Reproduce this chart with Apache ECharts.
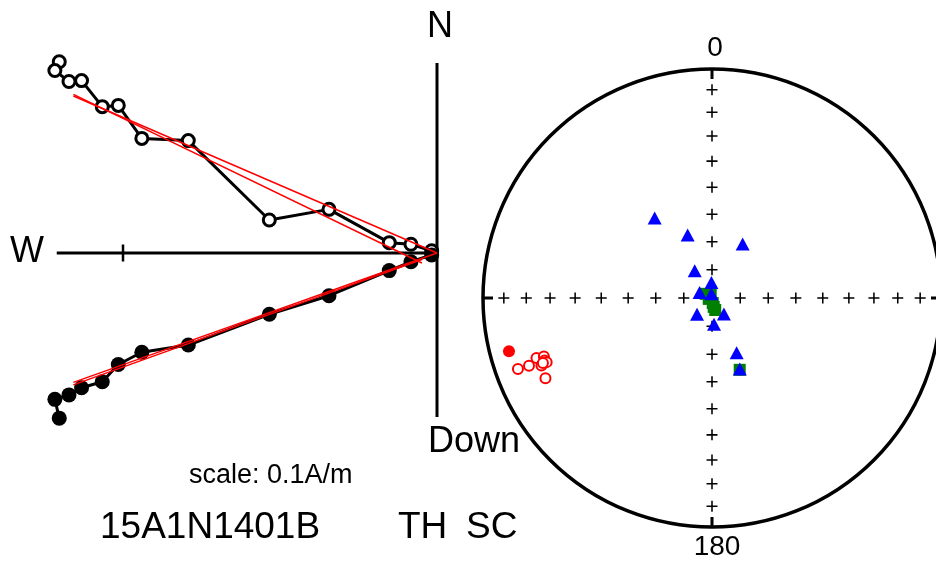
<!DOCTYPE html>
<html><head><meta charset="utf-8">
<script src="https://cdn.jsdelivr.net/npm/echarts@6/dist/echarts.min.js"></script>
<style>html,body{margin:0;padding:0;background:#fff}#c{width:936px;height:563px}</style>
</head><body><div id="c"></div>
<script>
// ---- Zijderveld demagnetisation steps (A/m) ----
const stepEast  = [-0.1203,-0.1217,-0.1172,-0.1132,-0.1066,-0.1015,-0.0940,-0.0792,-0.0534,-0.0344,-0.0152,-0.0083,-0.0017];
const stepNorth = [0.0609,0.0581,0.0546,0.0549,0.0466,0.0470,0.0365,0.0358,0.0105,0.0139,0.0033,0.0028,0.0007];
const stepDown  = [0.0526,0.0466,0.0452,0.0429,0.0410,0.0355,0.0316,0.0293,0.0195,0.0136,0.0056,0.0028,0.0006];
// PCA fit segments (start, end)
const fitFreeEast  = [-0.1158,-0.0048];
const fitFreeNorth = [0.0505,-0.0032];
const fitFreeDown  = [0.0420,0.0021];
const fitAnchEast  = [-0.1158,0];
const fitAnchNorth = [0.0500,0];
const fitAnchDown  = [0.0412,0];
// axes extents (A/m) and scale tick
const axisWest = -0.1211, axisNorth = 0.0605, axisDown = 0.0522;
const scaleTick = [-0.1];
const zijLabels = ['W','N','Down'];
const scaleText = 'scale: 0.1A/m';
const sampleName = '15A1N1401B';
const treatLabels = ['TH','SC'];

// ---- Equal-area stereonet ----
const redDec = [255.3,249.9,249.7,251.1,248.4,250.8,249.5,248.8,244.3,249.0];
const redInc = [9.2,-10.7,-15.9,-20.1,-21.0,-23.3,-23.0,-23.6,-20.4,-22.0];
const blueDec = [324.4,338.9,29.6,327.5,357.8,293.7,351.7,222.8,143.5,175.6,155.8,158.6];
const blueInc = [54.6,65.9,67.9,78.6,84.5,85.2,88.5,82.2,82.9,80.7,68.6,62.8];
const greenDec = [303.1,342.4,254.8,171.8,169.2,164.9,158.9];
const greenInc = [87.3,88.5,88.8,88.2,86.8,85.6,62.5];
const gridIncs = [10,20,30,40,50,60,70,80,90];
const gridDecs = [0,90,180,270];
const stereoTickLabels = ['0','180'];

// ---- layout ----
const ORG = [437,253], K = 3140;
const xMin=-0.13, xMax=0.005, yMin=-0.06, yMax=0.065;
const FONT = '"Liberation Sans", Arial, sans-serif';
const SC = {cx:712, cy:298, R:229};

function eaR(inc){ return Math.SQRT2*Math.sin((90-Math.abs(inc))/2*Math.PI/180); }
function pol(decs, incs, filt){
  const out=[];
  decs.forEach((d,i)=>{ if(!filt || filt(incs[i])) out.push([eaR(incs[i]), d]); });
  return out;
}
const crossData=[];
gridIncs.forEach(I=>gridDecs.forEach(D=>crossData.push([eaR(I),D])));

const plus='path://M4.3,0h1.4v4.3h4.3v1.4h-4.3v4.3h-1.4v-4.3h-4.3v-1.4h4.3z';

function seg(a,b){ return [[a[0],b[0]],[a[1],b[1]]]; }
function redLine(data){
  return {type:'line', xAxisIndex:0, yAxisIndex:0, data, symbol:'none', silent:true, z:5,
    lineStyle:{color:'#ff0000', width:1.5}};
}

function txt(text,x,y,size,align){
  return {type:'text', x, y, z:100, style:{text, fill:'#000', font: size+'px '+FONT,
    align:align, textAlign:align, verticalAlign:'middle', textVerticalAlign:'middle'}};
}

const option = {
  animation:false,
  backgroundColor:'#fff',
  grid:{left: ORG[0]+xMin*K, top: ORG[1]-yMax*K, width:(xMax-xMin)*K, height:(yMax-yMin)*K},
  xAxis:{type:'value', min:xMin, max:xMax, show:false},
  yAxis:{type:'value', min:yMin, max:yMax, show:false},
  polar:{center:[SC.cx,SC.cy], radius:SC.R},
  angleAxis:{type:'value', min:0, max:360, interval:90, startAngle:90, clockwise:true,
    axisLine:{show:true, lineStyle:{color:'#000', width:3.5}},
    axisTick:{show:true, inside:true, length:10, lineStyle:{color:'#000', width:3}},
    axisLabel:{show:false}, splitLine:{show:false}},
  radiusAxis:{type:'value', min:0, max:1, show:false, axisLine:{show:false}, axisTick:{show:false}, axisLabel:{show:false}, splitLine:{show:false}},
  series:[
    {type:'line', data:[[axisWest,0],[0,0]], symbol:'none', silent:true, lineStyle:{color:'#000', width:3}, z:1},
    {type:'line', data:[[0,axisNorth],[0,-axisDown]], symbol:'none', silent:true, lineStyle:{color:'#000', width:3}, z:1},
    ...scaleTick.map(t=>({type:'line', data:[[t,-0.0027],[t,0.0027]], symbol:'none', silent:true, lineStyle:{color:'#000', width:2.5}, z:1})),
    {type:'line', data: stepEast.map((e,i)=>[e, stepNorth[i]]), symbol:'circle', symbolSize:12, showAllSymbol:true,
      lineStyle:{color:'#000', width:3}, itemStyle:{color:'#fff', borderColor:'#000', borderWidth:3, opacity:1}, z:3},
    {type:'line', data: stepEast.map((e,i)=>[e, -stepDown[i]]), symbol:'circle', symbolSize:15, showAllSymbol:true,
      lineStyle:{color:'#000', width:3}, itemStyle:{color:'#000', opacity:1}, z:3},
    redLine(seg(fitFreeEast, fitFreeNorth)),
    redLine(seg(fitAnchEast, fitAnchNorth)),
    redLine(seg(fitFreeEast, fitFreeDown.map(v=>-v))),
    redLine(seg(fitAnchEast, fitAnchDown.map(v=>-v))),
    // stereonet
    {type:'scatter', coordinateSystem:'polar', data:crossData, symbol:plus, symbolSize:11, itemStyle:{color:'#000', opacity:1}, silent:true, z:2},
    {type:'scatter', coordinateSystem:'polar', data:pol(redDec, redInc, v=>v<0), symbol:'circle', symbolSize:10,
      itemStyle:{color:'#fff', borderColor:'#ff0000', borderWidth:2, opacity:1}, z:3},
    {type:'scatter', coordinateSystem:'polar', data:pol(redDec, redInc, v=>v>=0), symbol:'circle', symbolSize:12,
      itemStyle:{color:'#ff0000', opacity:1}, z:3},
    {type:'scatter', coordinateSystem:'polar', data:pol(greenDec, greenInc), symbol:'rect', symbolSize:12,
      itemStyle:{color:'#008000', opacity:1}, z:3},
    {type:'scatter', coordinateSystem:'polar', data:pol(blueDec, blueInc), symbol:'triangle', symbolSize:[14,13],
      itemStyle:{color:'#0000ff', opacity:1}, z:4}
  ],
  graphic:[
    txt(zijLabels[0], 44, 252, 36, 'right'),
    txt(zijLabels[1], 440, 27, 36, 'center'),
    txt(zijLabels[2], 428, 442, 36, 'left'),
    txt(scaleText, 189, 476, 27, 'left'),
    txt(sampleName, 100, 528, 37, 'left'),
    txt(treatLabels[0], 398, 528, 37, 'left'),
    txt(treatLabels[1], 466, 528, 37, 'left'),
    txt(stereoTickLabels[0], 715, 48, 28, 'center'),
    txt(stereoTickLabels[1], 717, 547, 28, 'center')
  ]
};
const chart = echarts.init(document.getElementById('c'), null, {renderer:'canvas'});
chart.setOption(option);
</script></body></html>
